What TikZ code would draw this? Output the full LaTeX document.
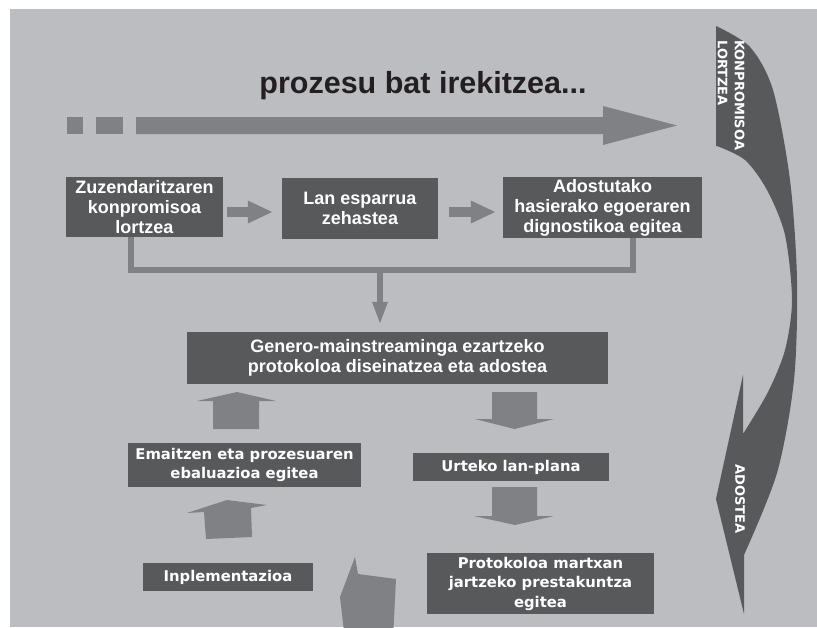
\documentclass[tikz,border=0pt]{standalone}
\usepackage{fontspec}
\setmainfont{Liberation Sans}
\newfontfamily\widefont{DejaVu Sans}
\usetikzlibrary{arrows.meta,calc}
\definecolor{bggray}{RGB}{188,189,193}
\definecolor{boxgray}{RGB}{88,89,91}
\definecolor{arrgray}{RGB}{128,129,133}
\definecolor{titleblack}{RGB}{35,31,32}
\begin{document}
\begin{tikzpicture}[x=1pt,y=-1pt,
  box/.style={fill=boxgray, text=white, inner sep=0pt, align=center,
    font=\bfseries\fontsize{18}{20}\selectfont},
  widebox/.style={fill=boxgray, text=white, inner sep=0pt, align=center,
    font=\widefont\bfseries\fontsize{14.8}{18.5}\selectfont},
  sidetext/.style={text=white, inner sep=0pt, rotate=-90,
    font=\widefont\bfseries\fontsize{13}{17}\selectfont},
  thinarrow/.style={draw=arrgray, line width=10pt, -{Triangle[length=25pt,width=21pt]}},
  connector/.style={draw=arrgray, line width=6pt, line join=miter},
  blockarrow/.style={fill=arrgray}]
\useasboundingbox (0,0) rectangle (817,627);
\fill[white] (0,0) rectangle (817,627);
\fill[bggray] (10,9) rectangle (817,627);

% title and main arrow
\node[font=\bfseries\fontsize{30.5}{32}\selectfont, text=titleblack, anchor=base, inner sep=0pt] (title) at (423,93) {prozesu bat irekitzea...};
\fill[arrgray] (67,117) rectangle (83,134);
\fill[arrgray] (96,117) rectangle (123,134);
\fill[arrgray] (136,117) -- (603,117) -- (603,106) -- (677,125.5) -- (603,145) -- (603,134) -- (136,134) -- cycle;

% right curved arrow
\fill[boxgray] (716,146) -- (716,26)
  -- plot[smooth] coordinates {(716,26) (750,47) (773,90) (790,180) (797,280) (794,380) (777,473) (744,555)}
  -- (744,614) -- (716,499) -- (743,375) -- (743,434)
  -- plot[smooth] coordinates {(743,434) (768,392) (785,350) (792,300) (785,235) (767,190) (745,160) (717,146)}
  -- cycle;
\node[sidetext, anchor=west, align=left] (konp) at (731,40) {KONPROMISOA\\LORTZEA};
\node[sidetext] (ados) at (740,499) {ADOSTEA};

% boxes
\node[box, minimum width=157pt, minimum height=60pt] (b1) at (144.5,207) {Zuzendaritzaren\\konpromisoa\\lortzea};
\node[box, minimum width=156pt, minimum height=61pt] (b2) at (360,208.5) {Lan esparrua\\zehastea};
\node[box, minimum width=199pt, minimum height=61pt] (b3) at (602.5,207.5) {Adostutako\\hasierako egoeraren\\dignostikoa egitea};
\node[box, minimum width=421pt, minimum height=52pt] (g) at (397.5,358) {Genero-mainstreaminga ezartzeko\\protokoloa diseinatzea eta adostea};
\node[widebox, minimum width=233pt, minimum height=44pt] (e) at (244.5,465) {Emaitzen eta prozesuaren\\ebaluazioa egitea};
\node[widebox, minimum width=196pt, minimum height=28pt] (u) at (511,467) {Urteko lan-plana};
\node[widebox, minimum width=170pt, minimum height=28pt] (im) at (228,577) {Inplementazioa};
\node[widebox, minimum width=227pt, minimum height=61pt, font=\widefont\bfseries\fontsize{14.8}{19.5}\selectfont] (p) at (540.5,583.5) {Protokoloa martxan\\jartzeko prestakuntza\\egitea};

% connectors
\draw[thinarrow] ($(b1.east)+(4,5)$) -- ($(b2.west)+(-9,3.5)$);
\draw[thinarrow] ($(b2.east)+(11,3.5)$) -- ($(b3.west)+(-7,4.5)$);
\coordinate (j1) at (131,270);
\coordinate (j3) at (633,270);
\coordinate (jm) at (380,270);
\draw[connector] (b1.south -| j1) -- (j1) -- (j3) -- (b3.south -| j3);
\draw[connector, -{Triangle[length=23pt,width=14pt]}] (jm) -- ($(g.north -| jm)+(0,-7)$);

% block arrows of the cycle
\fill[blockarrow] (492,392) -- (537,392) -- (537,419) -- (554,419) -- (514.5,429) -- (475,419) -- (492,419) -- cycle;
\fill[blockarrow] (492,487) -- (537,487) -- (537,516) -- (554,516) -- (515,525) -- (474,516) -- (492,516) -- cycle;
\fill[blockarrow] (197,401) -- (237,392) -- (276,401) -- (259,401) -- (259,429) -- (213,429) -- (213,401) -- cycle;
\fill[blockarrow] (187,513) -- (227,500) -- (267,505) -- (251,508) -- (252,537) -- (206,539) -- (204,512) -- cycle;
\begin{scope}
\clip (10,9) rectangle (817,627);
\fill[blockarrow] (355,557) -- (358,574) -- (396,579) -- (393,640) -- (345,640) -- (340,597) -- cycle;
\end{scope}
\end{tikzpicture}
\end{document}
